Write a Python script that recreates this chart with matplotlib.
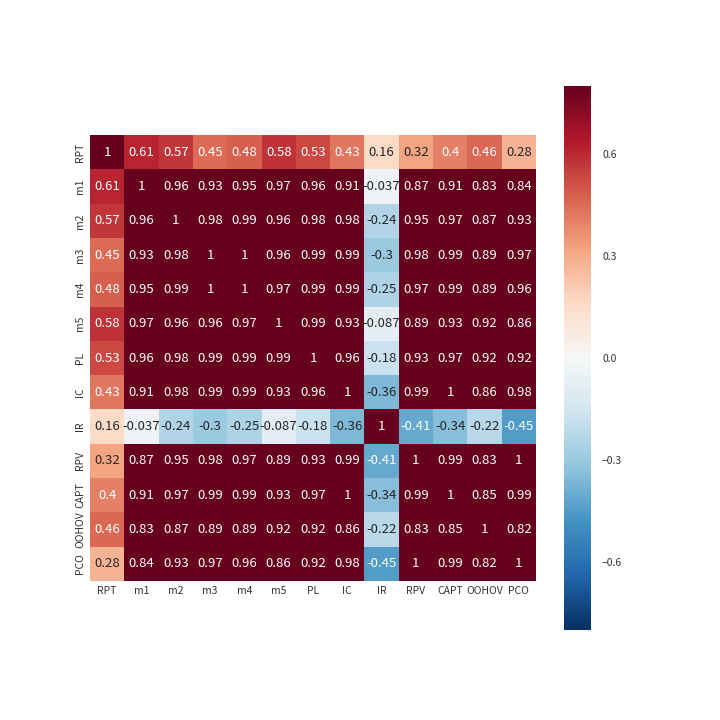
import numpy as np
import pandas as pd
import matplotlib
matplotlib.use("Agg")
import matplotlib.pyplot as plt
import seaborn as sns

labels = ["RPT", "m1", "m2", "m3", "m4", "m5", "PL", "IC", "IR", "RPV", "CAPT", "OOHOV", "PCO"]

rpt = [1, .61, .57, .45, .48, .58, .53, .43, .16, .32, .4, .46, .28]
m1 = [.61, 1, .96, .93, .95, .97, .96, .91, -.037, .87, .91, .83, .84]
m2 = [.57, .96, 1, .98, .99, .96, .98, .98, -.24, .95, .97, .87, .93]
m3 = [.45, .93, .98, 1, 1, .96, .99, .99, -.3, .98, .99, .89, .97]
m4 = [.48, .95, .99, 1, 1, .97, .99, .99, -.25, .97, .99, .89, .96]
m5 = [.58, .97, .96, .96, .97, 1, .99, .93, -.087, .89, .93, .92, .86]
pl = [.53, .96, .98, .99, .99, .99, 1, .96, -.18, .93, .97, .92, .92]
ic = [.43, .91, .98, .99, .99, .93, .96, 1, -.36, .99, 1, .86, .98]
ir = [.16, -.037, -.24, -.3, -.25, -.087, -.18, -.36, 1, -.41, -.34, -.22, -.45]
rpv = [.32, .87, .95, .98, .97, .89, .93, .99, -.41, 1, .99, .83, 1]
capt = [.4, .91, .97, .99, .99, .93, .97, 1, -.34, .99, 1, .85, .99]
oohov = [.46, .83, .87, .89, .89, .92, .92, .86, -.22, .83, .85, 1, .82]
pco = [.28, .84, .93, .97, .96, .86, .92, .98, -.45, 1, .99, .82, 1]

cbar_ticks = [-0.6, -0.3, 0.0, 0.3, 0.6]

corr = pd.DataFrame([rpt, m1, m2, m3, m4, m5, pl, ic, ir, rpv, capt, oohov, pco],
                    index=labels, columns=labels)

fam = ['Noto Sans CJK SC', 'DejaVu Sans']
sns.set_style("white")
plt.rcParams['font.family'] = fam
plt.rcParams['axes.unicode_minus'] = True

W = 720.0
fig = plt.figure(figsize=(7.2, 7.2), dpi=100)
ax = fig.add_axes([90 / W, (W - 581) / W, 446 / W, 446 / W])
cax = fig.add_axes([564 / W, (W - 630) / W, 27 / W, 544 / W])

sns.heatmap(corr, ax=ax, cbar_ax=cax, vmin=-0.8, vmax=0.8, cmap="RdBu_r",
            square=True, annot=True, annot_kws={"size": 9.5, "family": fam})

ax.tick_params(length=0, labelsize=7.5, colors="#333333")
ax.set_yticklabels(labels, rotation=90, va="center", family=fam)
ax.set_xticklabels(labels, rotation=0, family=fam)

cax.set_yticks(cbar_ticks)
cax.set_yticklabels(["\u22120.6", "\u22120.3", "0.0", "0.3", "0.6"], family=fam)
cax.tick_params(length=0, labelsize=7.5, colors="#333333", pad=8)
for s in cax.spines.values():
    s.set_visible(False)

fig.savefig("out.png", dpi=100)
